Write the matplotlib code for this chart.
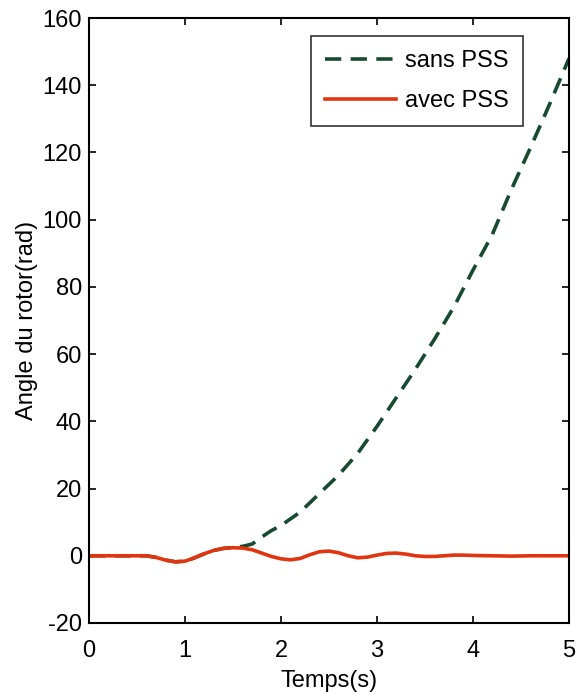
import matplotlib
matplotlib.use("Agg")
import matplotlib.pyplot as plt
from matplotlib import font_manager

# Rotor angle response, with and without power system stabilizer
t_avec = [0.0, 0.1, 0.2, 0.3, 0.4, 0.5, 0.6, 0.7, 0.8, 0.9, 1.0, 1.1, 1.2, 1.3,
          1.4, 1.5, 1.6, 1.7, 1.8, 1.9, 2.0, 2.1, 2.2, 2.3, 2.4, 2.5, 2.6, 2.7,
          2.8, 2.9, 3.0, 3.1, 3.2, 3.3, 3.4, 3.5, 3.6, 3.7, 3.8, 3.9, 4.0, 4.2,
          4.4, 4.6, 4.8, 5.0]
angle_avec = [0.0, 0.0, 0.0, 0.0, 0.0, 0.0, 0.0, -0.5, -1.3, -1.8, -1.6, -0.6,
              0.6, 1.6, 2.2, 2.4, 2.3, 1.8, 0.8, -0.2, -0.9, -1.2, -0.8, 0.3,
              1.2, 1.4, 0.9, 0.0, -0.6, -0.4, 0.2, 0.7, 0.8, 0.5, 0.0, -0.2,
              -0.2, 0.0, 0.2, 0.2, 0.1, 0.0, -0.1, 0.0, 0.0, 0.0]

t_sans = [0.0, 0.1, 0.2, 0.3, 0.4, 0.5, 0.6, 0.7, 0.8, 0.9, 1.0, 1.1, 1.2, 1.3,
          1.4, 1.5, 1.6, 1.7, 1.8, 1.9, 2.0, 2.2, 2.4, 2.6, 2.8, 3.0, 3.2, 3.4,
          3.6, 3.8, 4.0, 4.2, 4.4, 4.6, 4.8, 5.0]
angle_sans = [0.0, 0.0, 0.0, 0.0, 0.0, 0.0, 0.0, -0.5, -1.3, -1.8, -1.6, -0.6,
              0.6, 1.6, 2.2, 2.5, 2.8, 3.5, 5.6, 7.5, 9.0, 13.0, 18.5, 24.0,
              30.5, 38.5, 47.0, 55.5, 64.5, 74.0, 85.0, 95.5, 109.0, 121.5,
              134.5, 148.0]

x_ticks = [0, 1, 2, 3, 4, 5]
y_ticks = [-20, 0, 20, 40, 60, 80, 100, 120, 140, 160]

names = {f.name for f in font_manager.fontManager.ttflist}
family = "Liberation Sans Narrow" if "Liberation Sans Narrow" in names else "Liberation Sans"
plt.rcParams["font.family"] = [family, "DejaVu Sans"]
plt.rcParams["font.size"] = 17
plt.rcParams["axes.unicode_minus"] = False

fig = plt.figure(figsize=(5.87, 6.95), dpi=100)
ax = fig.add_axes([0.1516, 0.1036, 0.8177, 0.8704])

ax.plot(t_sans, angle_sans, color="#174a30", lw=2.6, dashes=(4.5, 2.6),
        label="sans PSS")
ax.plot(t_avec, angle_avec, color="#e03510", lw=2.6, label="avec PSS")

ax.set_xlim(0, 5)
ax.set_ylim(-20, 160)
ax.set_xticks(x_ticks)
ax.set_yticks(y_ticks)
ax.tick_params(direction="in", length=5, width=1.2, top=True, right=True,
               labelsize=17)
ax.tick_params(axis="x", pad=12)
ax.tick_params(axis="y", pad=5)
for s in ax.spines.values():
    s.set_linewidth(1.5)

ax.set_xlabel("Temps(s)", fontsize=17, labelpad=6)
ax.set_ylabel("Angle du rotor(rad)", fontsize=17, labelpad=3)

leg = ax.legend(loc="upper right", bbox_to_anchor=(0.904, 0.97), fontsize=17,
                frameon=True, fancybox=False, edgecolor="black",
                handlelength=3.0, handletextpad=0.4, borderpad=0.6,
                labelspacing=0.75, borderaxespad=0)
leg.get_frame().set_linewidth(1.2)

fig.savefig("out.png", dpi=100)
